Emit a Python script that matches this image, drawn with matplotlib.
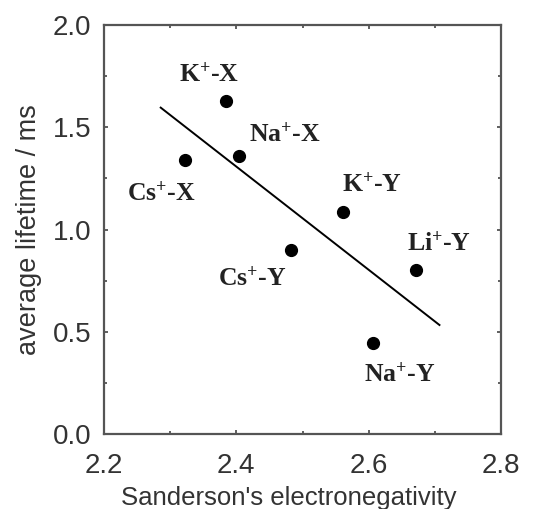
import matplotlib.pyplot as plt
from matplotlib.ticker import MultipleLocator

# Data
labels = ["K$^{+}$-X", "Na$^{+}$-X", "Cs$^{+}$-X", "K$^{+}$-Y", "Cs$^{+}$-Y", "Li$^{+}$-Y", "Na$^{+}$-Y"]
electroneg = [2.385, 2.404, 2.323, 2.561, 2.483, 2.672, 2.606]
lifetime = [1.63, 1.361, 1.34, 1.084, 0.898, 0.802, 0.443]

# label centres (data coords)
label_x = [2.359, 2.4735, 2.286, 2.6055, 2.424, 2.707, 2.647]
label_y = [1.76, 1.462, 1.177, 1.221, 0.761, 0.932, 0.293]

# linear fit endpoints
fit_x = [2.2857, 2.707]
fit_y = [1.596, 0.533]

plt.rcParams["mathtext.fontset"] = "custom"
plt.rcParams["mathtext.rm"] = "Liberation Serif:bold"
plt.rcParams["mathtext.it"] = "Liberation Serif:bold"
plt.rcParams["mathtext.bf"] = "Liberation Serif:bold"

fig = plt.figure(figsize=(5.33, 5.09), dpi=100)
ax = fig.add_axes([104 / 533, 1 - 434 / 509, 397 / 533, 409 / 509])

ax.plot(fit_x, fit_y, color="black", lw=1.4)
ax.plot(electroneg, lifetime, "o", color="black", ms=8.5)

for lab, tx, ty in zip(labels, label_x, label_y):
    ax.text(tx, ty, lab, ha="center", va="center", fontsize=18.5,
            family="Liberation Serif", weight="bold", color="#222222")

ax.set_xlim(2.2, 2.8)
ax.set_ylim(0, 2.0)
ax.xaxis.set_major_locator(MultipleLocator(0.2))
ax.xaxis.set_minor_locator(MultipleLocator(0.1))
ax.yaxis.set_major_locator(MultipleLocator(0.5))
ax.yaxis.set_minor_locator(MultipleLocator(0.25))
ax.xaxis.set_major_formatter(plt.FormatStrFormatter("%.1f"))
ax.yaxis.set_major_formatter(plt.FormatStrFormatter("%.1f"))

ax.tick_params(which="major", direction="in", top=True, right=True,
               length=3, width=1.2, color="#444444")
ax.tick_params(which="minor", direction="in", top=True, right=True,
               length=2, width=1.2, color="#444444")
ax.tick_params(labelsize=20, labelcolor="#333333")
ax.tick_params(axis="x", pad=14)
ax.tick_params(axis="y", pad=9)
for lab in ax.get_xticklabels() + ax.get_yticklabels():
    lab.set_family("Liberation Sans")

for sp in ax.spines.values():
    sp.set_linewidth(1.6)
    sp.set_color("#555555")

ax.set_xlabel("Sanderson's electronegativity", fontsize=18.5, x=0.466,
              family="Liberation Sans", color="#333333", labelpad=5)
ax.set_ylabel("average lifetime / ms", fontsize=19.5,
              family="Liberation Sans", color="#333333", labelpad=8)

fig.savefig("out.png", dpi=100)
